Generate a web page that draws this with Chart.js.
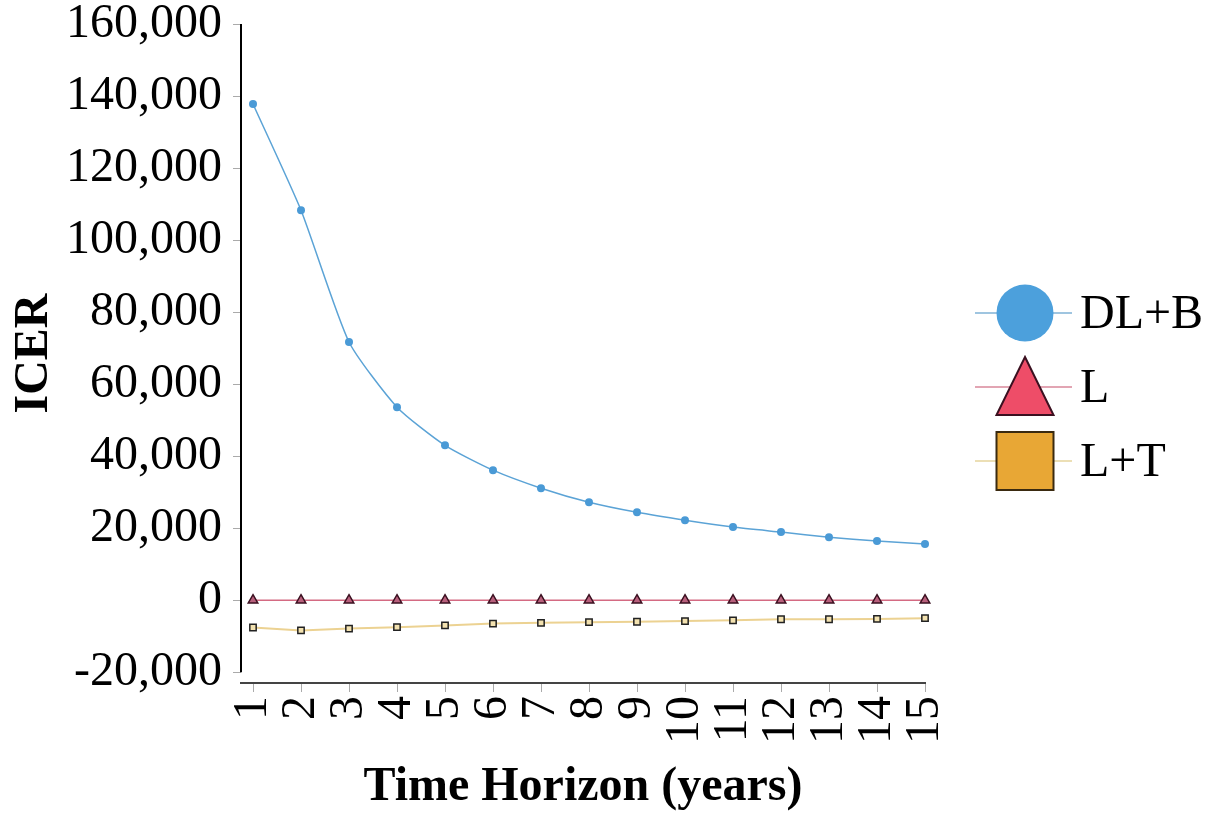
<!DOCTYPE html>
<html>
<head>
<meta charset="utf-8">
<script src="https://cdn.jsdelivr.net/npm/chart.js@4"></script>
<style>
  body { margin: 0; background: #fff; }
  #wrap { width: 1213px; height: 818px; }
</style>
</head>
<body>
<div id="wrap"><canvas id="chart"></canvas></div>
<script>
const years = [1, 2, 3, 4, 5, 6, 7, 8, 9, 10, 11, 12, 13, 14, 15];
const dlbValues = [137800, 108300, 71700, 53600, 43000, 36100, 31100, 27200, 24400, 22200, 20300, 18900, 17500, 16400, 15600];
const lValues = [0, 0, 0, 0, 0, 0, 0, 0, 0, 0, 0, 0, 0, 0, 0];
const ltValues = [-7600, -8400, -7900, -7500, -7000, -6500, -6300, -6100, -6000, -5800, -5600, -5300, -5300, -5200, -5000];
const seriesNames = ['DL+B', 'L', 'L+T'];
const yTickValues = [-20000, 0, 20000, 40000, 60000, 80000, 100000, 120000, 140000, 160000];

const serif = "'Liberation Serif', 'Times New Roman', serif";

const toPoints = vals => vals.map((v, i) => ({ x: years[i], y: v }));

// draws the y axis line only over the tick range, plus the custom legend
const extrasPlugin = {
  id: 'extras',
  afterDraw(chart) {
    const ctx = chart.ctx;
    const y = chart.scales.y;
    const x0 = chart.chartArea.left;
    ctx.save();
    ctx.strokeStyle = '#000';
    ctx.lineWidth = 2;
    ctx.beginPath();
    ctx.moveTo(x0, y.getPixelForValue(yTickValues[yTickValues.length - 1]));
    ctx.lineTo(x0, y.getPixelForValue(yTickValues[0]));
    ctx.stroke();

    // legend
    const cx = 1025, lineL = 975, lineR = 1072, textX = 1080;
    const rows = [313, 387, 461];
    ctx.font = '48px ' + serif;
    ctx.textBaseline = 'middle';
    ctx.fillStyle = '#000';
    chart.data.datasets.forEach((ds, i) => {
      const cy = rows[i];
      ctx.strokeStyle = ds.legendLine;
      ctx.lineWidth = 1.5;
      ctx.beginPath();
      ctx.moveTo(lineL, cy);
      ctx.lineTo(lineR, cy);
      ctx.stroke();
      ctx.fillStyle = ds.legendFill;
      ctx.strokeStyle = ds.legendBorder;
      ctx.lineWidth = 2;
      ctx.beginPath();
      if (ds.pointStyle === 'circle') {
        ctx.arc(cx, cy, 28.5, 0, Math.PI * 2);
        ctx.fill();
      } else if (ds.pointStyle === 'triangle') {
        ctx.moveTo(cx, cy - 30);
        ctx.lineTo(cx + 28.5, cy + 28);
        ctx.lineTo(cx - 28.5, cy + 28);
        ctx.closePath();
        ctx.fill();
        ctx.stroke();
      } else {
        ctx.rect(cx - 28.5, cy - 29, 57, 58);
        ctx.fill();
        ctx.stroke();
      }
      ctx.fillStyle = '#000';
      ctx.fillText(ds.label, textX, cy + 2);
    });
    ctx.restore();
  }
};

new Chart(document.getElementById('chart'), {
  type: 'line',
  data: {
    datasets: [
      {
        label: seriesNames[0],
        data: toPoints(dlbValues),
        borderColor: '#5ba3d6',
        backgroundColor: '#4a9ad6',
        borderWidth: 1.5,
        pointStyle: 'circle',
        pointRadius: 4,
        pointBorderWidth: 0,
        tension: 0.2,
        legendLine: '#7fb2d6',
        legendFill: '#4ca0dc',
        legendBorder: '#4ca0dc',
        clip: false
      },
      {
        label: seriesNames[1],
        data: toPoints(lValues),
        borderColor: '#d46a82',
        backgroundColor: '#b8607c',
        pointBorderColor: '#3b1020',
        borderWidth: 1.5,
        pointStyle: 'triangle',
        pointRadius: 5.5,
        pointBorderWidth: 1.5,
        legendLine: '#d9879a',
        legendFill: '#ee4d68',
        legendBorder: '#3b1020',
        clip: false
      },
      {
        label: seriesNames[2],
        data: toPoints(ltValues),
        borderColor: '#ecd292',
        backgroundColor: '#f3e2b0',
        pointBorderColor: '#222',
        borderWidth: 2,
        pointStyle: 'rect',
        pointRadius: 4.5,
        pointBorderWidth: 1.5,
        legendLine: '#e6d49c',
        legendFill: '#e8a735',
        legendBorder: '#3a2a10',
        clip: false
      }
    ]
  },
  options: {
    responsive: true,
    maintainAspectRatio: false,
    animation: false,
    layout: { padding: { top: 0, right: 288, bottom: 0, left: 0 } },
    plugins: {
      legend: { display: false },
      tooltip: { enabled: false }
    },
    scales: {
      x: {
        type: 'linear',
        min: 0.75,
        max: 15,
        afterBuildTicks: scale => { scale.ticks = years.map(v => ({ value: v })); },
        afterFit: scale => { scale.height = 135; },
        grid: { drawOnChartArea: false, tickLength: 9, color: '#aaa' },
        border: { color: '#444', width: 2 },
        ticks: {
          autoSkip: false,
          minRotation: 90,
          maxRotation: 90,
          padding: 4,
          color: '#000',
          font: { family: serif, size: 48 }
        },
        title: {
          display: true,
          text: 'Time Horizon (years)',
          color: '#000',
          font: { family: serif, size: 48, weight: 'bold' },
          padding: { top: 0, bottom: 2 }
        }
      },
      y: {
        min: -23000,
        max: 160000,
        afterBuildTicks: scale => { scale.ticks = yTickValues.map(v => ({ value: v })); },
        afterFit: scale => { scale.width = 241; scale.paddingTop = 24; },
        grid: { drawOnChartArea: false, tickLength: 8, color: '#aaa' },
        border: { display: false },
        ticks: {
          padding: 11,
          color: '#000',
          font: { family: serif, size: 48, lineHeight: 1 },
          callback: v => v.toLocaleString('en-US')
        },
        title: {
          display: true,
          text: 'ICER',
          color: '#000',
          font: { family: serif, size: 48, weight: 'bold' },
          padding: { top: 6, bottom: 0 }
        }
      }
    }
  },
  plugins: [extrasPlugin]
});
</script>
</body>
</html>
